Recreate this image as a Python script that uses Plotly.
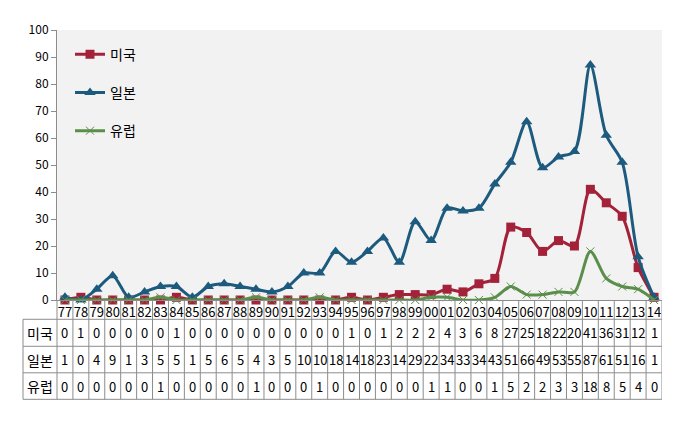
import plotly.graph_objects as go

years = ["77","78","79","80","81","82","83","84","85","86","87","88","89","90","91","92","93","94",
         "95","96","97","98","99","00","01","02","03","04","05","06","07","08","09","10","11","12","13","14"]
usa = [0,1,0,0,0,0,0,1,0,0,0,0,0,0,0,0,0,0,1,0,1,2,2,2,4,3,6,8,27,25,18,22,20,41,36,31,12,1]
japan = [1,0,4,9,1,3,5,5,1,5,6,5,4,3,5,10,10,18,14,18,23,14,29,22,34,33,34,43,51,66,49,53,55,87,61,51,16,1]
europe = [0,0,0,0,0,0,1,0,0,0,0,0,1,0,0,0,1,0,0,0,0,0,0,1,1,0,0,1,5,2,2,3,3,18,8,5,4,0]
series_names = ["미국", "일본", "유럽"]
colors = ["#A3223A", "#1C5A7E", "#5A8E4A"]

FONT = "Noto Sans CJK KR, DejaVu Sans, sans-serif"
n = len(years)
xs = list(range(n))

fig = go.Figure()
fig.add_trace(go.Scatter(x=xs, y=usa, name=series_names[0], mode="lines+markers",
                         line=dict(color=colors[0], width=3, shape="spline", smoothing=0.8),
                         marker=dict(symbol="square", size=9, color=colors[0]),
                         cliponaxis=False, legendgroup="a"))
fig.add_trace(go.Scatter(x=xs, y=japan, name=series_names[1], mode="lines+markers",
                         line=dict(color=colors[1], width=3, shape="spline", smoothing=0.8),
                         marker=dict(symbol="triangle-up", size=10, color=colors[1]),
                         cliponaxis=False, legendgroup="b"))
fig.add_trace(go.Scatter(x=xs, y=europe, name=series_names[2], mode="lines+markers",
                         line=dict(color=colors[2], width=3, shape="spline", smoothing=0.8),
                         marker=dict(symbol="x-thin", size=8, color=colors[2],
                                     line=dict(color=colors[2], width=1)),
                         cliponaxis=False, legendgroup="c"))

# page has an 8px body margin: work in page pixels and convert
OFF = 8
W, H = 681 - OFF, 442 - OFF
ml, mr, mt, mb = 57 - OFF, 19, 20 - OFF, 142
pw, ph = W - ml - mr, H - mt - mb
zero_px = 300  # page pixel of y=0

def py(p):
    return (zero_px - p) / ph

def px(p):
    return (p - 57) / pw

grid = "#8C8C8C"
shapes = []
row_lines = [320, 348, 375.5, 403]
for r in row_lines:
    shapes.append(dict(type="line", xref="paper", yref="paper", x0=px(23), x1=1,
                       y0=py(r), y1=py(r), line=dict(color=grid, width=1)))
shapes.append(dict(type="line", xref="paper", yref="paper", x0=px(23), x1=px(23),
                   y0=py(320), y1=py(403), line=dict(color=grid, width=1)))
shapes.append(dict(type="line", xref="paper", yref="paper", x0=0, x1=0,
                   y0=0, y1=py(403), line=dict(color=grid, width=1)))
for k in range(1, n + 1):
    shapes.append(dict(type="line", xref="x", yref="paper", x0=k - 0.5, x1=k - 0.5,
                       y0=0, y1=py(403), line=dict(color=grid, width=1)))

annotations = []
row_centers = [334, 362, 389.5]
for name, vals, rc in zip(series_names, [usa, japan, europe], row_centers):
    annotations.append(dict(x=px(40), y=py(rc), xref="paper", yref="paper", text=name,
                            showarrow=False, font=dict(family=FONT, size=14, color="black"),
                            xanchor="center", yanchor="middle"))
    for i, v in enumerate(vals):
        annotations.append(dict(x=i, y=py(rc), xref="x", yref="paper", text=str(v),
                                showarrow=False, font=dict(family=FONT, size=13, color="black"),
                                xanchor="center", yanchor="middle"))

fig.update_layout(
    width=W, height=H,
    margin=dict(l=ml, r=mr, t=mt, b=mb),
    paper_bgcolor="white",
    plot_bgcolor="#F2F2F2",
    font=dict(family=FONT, size=12, color="black"),
    showlegend=True,
    legend=dict(x=px(70), y=py(29), xanchor="left", yanchor="top",
                bgcolor="rgba(0,0,0,0)", font=dict(family=FONT, size=14),
                tracegroupgap=17, itemwidth=30),
    xaxis=dict(range=[-0.5, n - 0.5], tickvals=xs, ticktext=years, showgrid=False,
               zeroline=False, showline=True, linecolor=grid, linewidth=1, ticks="",
               tickangle=0,
               tickfont=dict(family=FONT, size=13, color="black"), fixedrange=True),
    yaxis=dict(range=[0, 100], dtick=10, showgrid=False, zeroline=False, showline=True,
               linecolor=grid, linewidth=1, ticks="outside", ticklen=5, tickcolor=grid,
               tickfont=dict(family=FONT, size=12, color="black")),
    shapes=shapes,
    annotations=annotations,
)

fig.write_html("out.html")
